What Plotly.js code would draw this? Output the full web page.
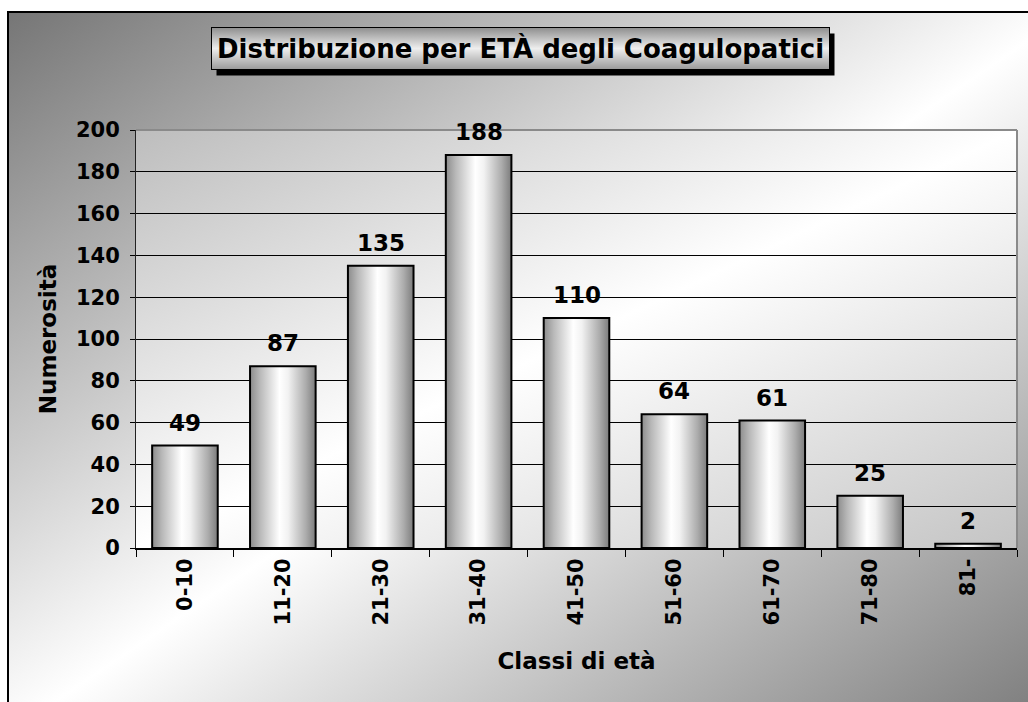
<!DOCTYPE html>
<html>
<head>
<meta charset="utf-8">
<script src="https://cdn.plot.ly/plotly-3.0.1.min.js"></script>
<style>
  body { margin: 0; background: #fff; overflow: hidden; }
  #frame {
    position: absolute; left: 7px; top: 11px; width: 1060px; height: 720px;
    border-left: 2px solid #000; border-top: 2px solid #000;
    background: linear-gradient(to bottom right, #767676 0%, #ffffff 50%, #767676 100%);
  }
  #chart { position: absolute; left: 0; top: 0; width: 1028px; height: 702px; }
</style>
</head>
<body>
<div id="frame"></div>
<div id="chart"></div>
<script>
const classes = ['0-10', '11-20', '21-30', '31-40', '41-50', '51-60', '61-70', '71-80', '81-'];
const counts = [49, 87, 135, 188, 110, 64, 61, 25, 2];
const yTicks = [0, 20, 40, 60, 80, 100, 120, 140, 160, 180, 200];

const chartTitle = 'Distribuzione per ETÀ degli Coagulopatici';
const xTitle = 'Classi di età';
const yTitle = 'Numerosità';

const FAMILY = '"DejaVu Sans", Verdana, sans-serif';
const bold = (size) => ({ family: FAMILY, size: size, color: '#000', weight: 'bold' });

const bars = {
  type: 'bar',
  x: classes,
  y: counts,
  marker: { color: '#d8d8d8', line: { color: '#000', width: 2 } },
  hoverinfo: 'skip'
};

// value labels above the bars
const labelNotes = classes.map((c, i) => ({
  x: c, y: counts[i], xref: 'x', yref: 'y',
  text: String(counts[i]),
  showarrow: false, yanchor: 'bottom', yshift: 8,
  font: bold(23)
}));

// boxed title (the drop shadow is added after rendering)
const titleNote = {
  text: chartTitle, xref: 'paper', yref: 'paper', x: 0.4364, y: 1.196,
  xanchor: 'center', yanchor: 'middle', showarrow: false,
  font: bold(26), bgcolor: '#dddddd', bordercolor: '#000', borderwidth: 1, borderpad: 5
};

const layout = {
  width: 1028,
  height: 702,
  margin: { l: 136, r: 11, t: 130, b: 154 },
  paper_bgcolor: 'rgba(0,0,0,0)',
  plot_bgcolor: '#ffffff',
  showlegend: false,
  bargap: 0.33,
  xaxis: {
    type: 'category',
    tickangle: -90,
    ticks: 'outside', tickson: 'boundaries', ticklen: 7, tickcolor: '#000', tickwidth: 1,
    showline: true, linecolor: '#000', linewidth: 2,
    showgrid: false,
    tickfont: bold(21),
    title: { text: xTitle, font: bold(23), standoff: 28 },
    automargin: false
  },
  yaxis: {
    range: [0, 200],
    tickvals: yTicks,
    ticks: 'outside', ticklen: 5, tickcolor: '#000', tickwidth: 1,
    ticklabelstandoff: 6,
    showline: true, linecolor: '#222', linewidth: 1,
    showgrid: true, gridcolor: '#000', gridwidth: 1,
    zeroline: false,
    tickfont: bold(21),
    title: { text: yTitle, font: bold(23), standoff: 12 },
    automargin: false
  },
  shapes: [
    { type: 'line', xref: 'paper', yref: 'paper', x0: 0, x1: 1, y0: 1, y1: 1,
      line: { color: '#8a8a8a', width: 2 }, layer: 'above' },
    { type: 'line', xref: 'paper', yref: 'paper', x0: 1, x1: 1, y0: 0, y1: 1,
      line: { color: '#8a8a8a', width: 2 }, layer: 'above' }
  ],
  annotations: [titleNote].concat(labelNotes)
};

const NS = 'http://www.w3.org/2000/svg';

function addGradient(defs, id, x2, y2, stops) {
  if (defs.querySelector('#' + id)) return;
  const g = document.createElementNS(NS, 'linearGradient');
  g.setAttribute('id', id);
  g.setAttribute('x1', '0'); g.setAttribute('y1', '0');
  g.setAttribute('x2', x2); g.setAttribute('y2', y2);
  stops.forEach(([off, col]) => {
    const s = document.createElementNS(NS, 'stop');
    s.setAttribute('offset', off);
    s.setAttribute('stop-color', col);
    g.appendChild(s);
  });
  defs.appendChild(g);
}

function decorate(gd) {
  const svg = gd.querySelector('svg.main-svg');
  let defs = svg.querySelector('defs');
  if (!defs) {
    defs = document.createElementNS(NS, 'defs');
    svg.insertBefore(defs, svg.firstChild);
  }
  addGradient(defs, 'barGrad', '1', '0', [
    ['0%', '#8c8c8c'], ['15%', '#b8b8b8'], ['45%', '#ffffff'],
    ['58%', '#f2f2f2'], ['85%', '#acacac'], ['100%', '#7c7c7c']
  ]);
  addGradient(defs, 'plotGrad', '1', '1', [
    ['0%', '#bdbdbd'], ['50%', '#ffffff'], ['100%', '#c4c4c4']
  ]);
  addGradient(defs, 'titleGrad', '0', '1', [
    ['0%', '#8e8e8e'], ['50%', '#eeeeee'], ['100%', '#9a9a9a']
  ]);

  gd.querySelectorAll('.bars .point path').forEach((p) => { p.style.fill = 'url(#barGrad)'; });

  const bg = svg.querySelector('.bglayer rect.bg') || svg.querySelector('.cartesianlayer rect.bg');
  if (bg) bg.style.fill = 'url(#plotGrad)';

  // the title box: gradient fill plus a black drop shadow
  gd.querySelectorAll('.title-shadow').forEach((s) => s.remove());
  gd.querySelectorAll('.annotation').forEach((a) => {
    const txt = a.querySelector('text');
    if (!txt || txt.textContent !== chartTitle) return;
    const rect = a.querySelector('rect');
    if (!rect) return;
    const shadow = rect.cloneNode(false);
    shadow.setAttribute('class', 'title-shadow');
    shadow.style.fill = '#000';
    shadow.style.stroke = 'none';
    shadow.setAttribute('transform', 'translate(5,6)');
    rect.parentNode.insertBefore(shadow, rect);
    rect.style.fill = 'url(#titleGrad)';
  });
}

Plotly.newPlot('chart', [bars], layout, { displayModeBar: false, staticPlot: true }).then((gd) => {
  decorate(gd);
  gd.on('plotly_afterplot', () => decorate(gd));
  setTimeout(() => decorate(gd), 50);
});
</script>
</body>
</html>
